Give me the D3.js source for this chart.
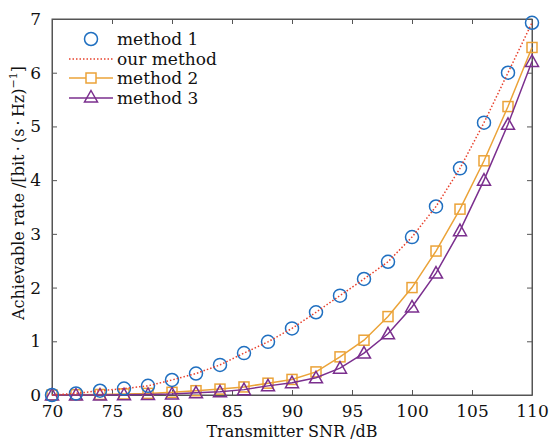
<!DOCTYPE html>
<html>
<head>
<meta charset="utf-8">
<script src="https://cdn.jsdelivr.net/npm/d3@7"></script>
<style>
  body { margin: 0; background: #fff; }
  text { font-family: "DejaVu Serif", "Liberation Serif", serif; }
</style>
</head>
<body>
<div id="chart"></div>
<script>
// values
const snr = [70, 72, 74, 76, 78, 80, 82, 84, 86, 88, 90, 92, 94, 96, 98, 100, 102, 104, 106, 108, 110];
const method1 = [0.0, 0.03, 0.08, 0.12, 0.17, 0.28, 0.40, 0.56, 0.78, 0.99, 1.24, 1.54, 1.85, 2.16, 2.48, 2.94, 3.51, 4.22, 5.07, 6.0, 6.93];
const ourMethod = [0.0, 0.03, 0.08, 0.12, 0.17, 0.28, 0.40, 0.56, 0.78, 0.99, 1.24, 1.54, 1.85, 2.16, 2.48, 2.94, 3.51, 4.22, 5.07, 6.0, 6.93];
const method2 = [0.0, 0.005, 0.01, 0.02, 0.03, 0.05, 0.08, 0.11, 0.15, 0.22, 0.29, 0.43, 0.71, 1.02, 1.46, 2.0, 2.68, 3.46, 4.36, 5.37, 6.47];
const method3 = [0.0, 0.0, 0.0, 0.005, 0.01, 0.02, 0.04, 0.06, 0.1, 0.17, 0.23, 0.32, 0.5, 0.78, 1.14, 1.64, 2.27, 3.06, 4.0, 5.04, 6.21];
const xTicks = [70, 75, 80, 85, 90, 95, 100, 105, 110];
const yTicks = [0, 1, 2, 3, 4, 5, 6, 7];

const width = 549, height = 442;
const margin = { top: 19, right: 17, bottom: 47, left: 52 };

const svg = d3.select("#chart").append("svg")
  .attr("width", width)
  .attr("height", height);

const x = d3.scaleLinear().domain([70, 110]).range([margin.left, width - margin.right]);
const y = d3.scaleLinear().domain([0, 7]).range([height - margin.bottom, margin.top]);

const axisColor = "#555";

// box
svg.append("rect")
  .attr("x", x(70)).attr("y", y(7))
  .attr("width", x(110) - x(70)).attr("height", y(0) - y(7))
  .attr("fill", "none").attr("stroke", axisColor).attr("stroke-width", 1);

// axes with inward ticks
svg.append("g")
  .attr("transform", `translate(0,${y(0)})`)
  .call(d3.axisBottom(x).tickValues(xTicks).tickFormat(d3.format("d")).tickSizeInner(-5).tickSizeOuter(0).tickPadding(10));
svg.append("g")
  .attr("transform", `translate(${x(70)},0)`)
  .call(d3.axisLeft(y).tickValues(yTicks).tickFormat(d3.format("d")).tickSizeInner(-5).tickSizeOuter(0).tickPadding(11));
// mirrored ticks on top and right
svg.append("g")
  .attr("transform", `translate(0,${y(7)})`)
  .call(d3.axisTop(x).tickValues(xTicks).tickSizeInner(-5).tickSizeOuter(0).tickFormat(""));
svg.append("g")
  .attr("transform", `translate(${x(110)},0)`)
  .call(d3.axisRight(y).tickValues(yTicks).tickSizeInner(-5).tickSizeOuter(0).tickFormat(""));

svg.selectAll(".domain").attr("stroke", axisColor);
svg.selectAll(".tick line").attr("stroke", axisColor);
svg.selectAll(".tick text")
  .attr("fill", "#111")
  .style("font-size", "17px")
  .style("font-family", "DejaVu Serif, serif");

// axis titles
svg.append("text")
  .attr("x", (x(70) + x(110)) / 2)
  .attr("y", 437)
  .attr("text-anchor", "middle")
  .style("font-size", "16px")
  .attr("fill", "#111")
  .text("Transmitter SNR /dB");

const yTitle = svg.append("text")
  .attr("transform", `translate(24,193) rotate(-90)`)
  .attr("text-anchor", "middle")
  .style("font-size", "16px")
  .attr("fill", "#111");
yTitle.append("tspan").text("Achievable rate /[bit\u2009\u00b7\u2009(s\u2009\u00b7\u2009Hz)");
yTitle.append("tspan").attr("dy", -7).style("font-size", "11px").text("\u22121");
yTitle.append("tspan").attr("dy", 7).text("]");

const c1 = "#1f6fc0", cOur = "#e8412c", c2 = "#eba338", c3 = "#7b2f8e";

const line = d3.line().x((d, i) => x(snr[i])).y(d => y(d));

// method 2 line + squares
svg.append("path").datum(method2).attr("d", line)
  .attr("fill", "none").attr("stroke", c2).attr("stroke-width", 1.5);
svg.selectAll(".sq").data(method2).enter().append("rect")
  .attr("x", (d, i) => x(snr[i]) - 5).attr("y", d => y(d) - 5)
  .attr("width", 10).attr("height", 10)
  .attr("fill", "none").attr("stroke", c2).attr("stroke-width", 1.5);

// method 3 line + triangles
const tri = (cx, cy) => `M${cx},${cy - 6.5}L${cx + 6.5},${cy + 5}L${cx - 6.5},${cy + 5}Z`;
svg.append("path").datum(method3).attr("d", line)
  .attr("fill", "none").attr("stroke", c3).attr("stroke-width", 1.5);
svg.selectAll(".tri").data(method3).enter().append("path")
  .attr("d", (d, i) => tri(x(snr[i]), y(d)))
  .attr("fill", "none").attr("stroke", c3).attr("stroke-width", 1.5);

// method 1 circles
svg.selectAll(".circ").data(method1).enter().append("circle")
  .attr("cx", (d, i) => x(snr[i])).attr("cy", d => y(d)).attr("r", 6.5)
  .attr("fill", "none").attr("stroke", c1).attr("stroke-width", 1.5);

// our method dotted line
svg.append("path").datum(ourMethod).attr("d", line)
  .attr("fill", "none").attr("stroke", cOur).attr("stroke-width", 1.5)
  .attr("stroke-dasharray", "1.5,2");

// legend
const legend = svg.append("g");
const rows = [
  { label: "method 1", y: 39 },
  { label: "our method", y: 59 },
  { label: "method 2", y: 78 },
  { label: "method 3", y: 98 }
];
const lx0 = 69, lx1 = 113, lm = 91;
legend.append("circle").attr("cx", lm).attr("cy", rows[0].y).attr("r", 6.5)
  .attr("fill", "none").attr("stroke", c1).attr("stroke-width", 1.5);
legend.append("line").attr("x1", lx0).attr("x2", lx1).attr("y1", rows[1].y).attr("y2", rows[1].y)
  .attr("stroke", cOur).attr("stroke-width", 1.5).attr("stroke-dasharray", "1.5,2");
legend.append("line").attr("x1", lx0).attr("x2", lx1).attr("y1", rows[2].y).attr("y2", rows[2].y)
  .attr("stroke", c2).attr("stroke-width", 1.5);
legend.append("rect").attr("x", lm - 5).attr("y", rows[2].y - 5).attr("width", 10).attr("height", 10)
  .attr("fill", "#fff").attr("stroke", c2).attr("stroke-width", 1.5);
legend.append("line").attr("x1", lx0).attr("x2", lx1).attr("y1", rows[3].y).attr("y2", rows[3].y)
  .attr("stroke", c3).attr("stroke-width", 1.5);
legend.append("path").attr("d", tri(lm, rows[3].y - 1))
  .attr("fill", "none").attr("stroke", c3).attr("stroke-width", 1.5);
legend.selectAll(".lt").data(rows).enter().append("text")
  .attr("x", 117).attr("y", d => d.y).attr("dy", "0.35em")
  .style("font-size", "17px").attr("fill", "#111")
  .text(d => d.label);
</script>
</body>
</html>
